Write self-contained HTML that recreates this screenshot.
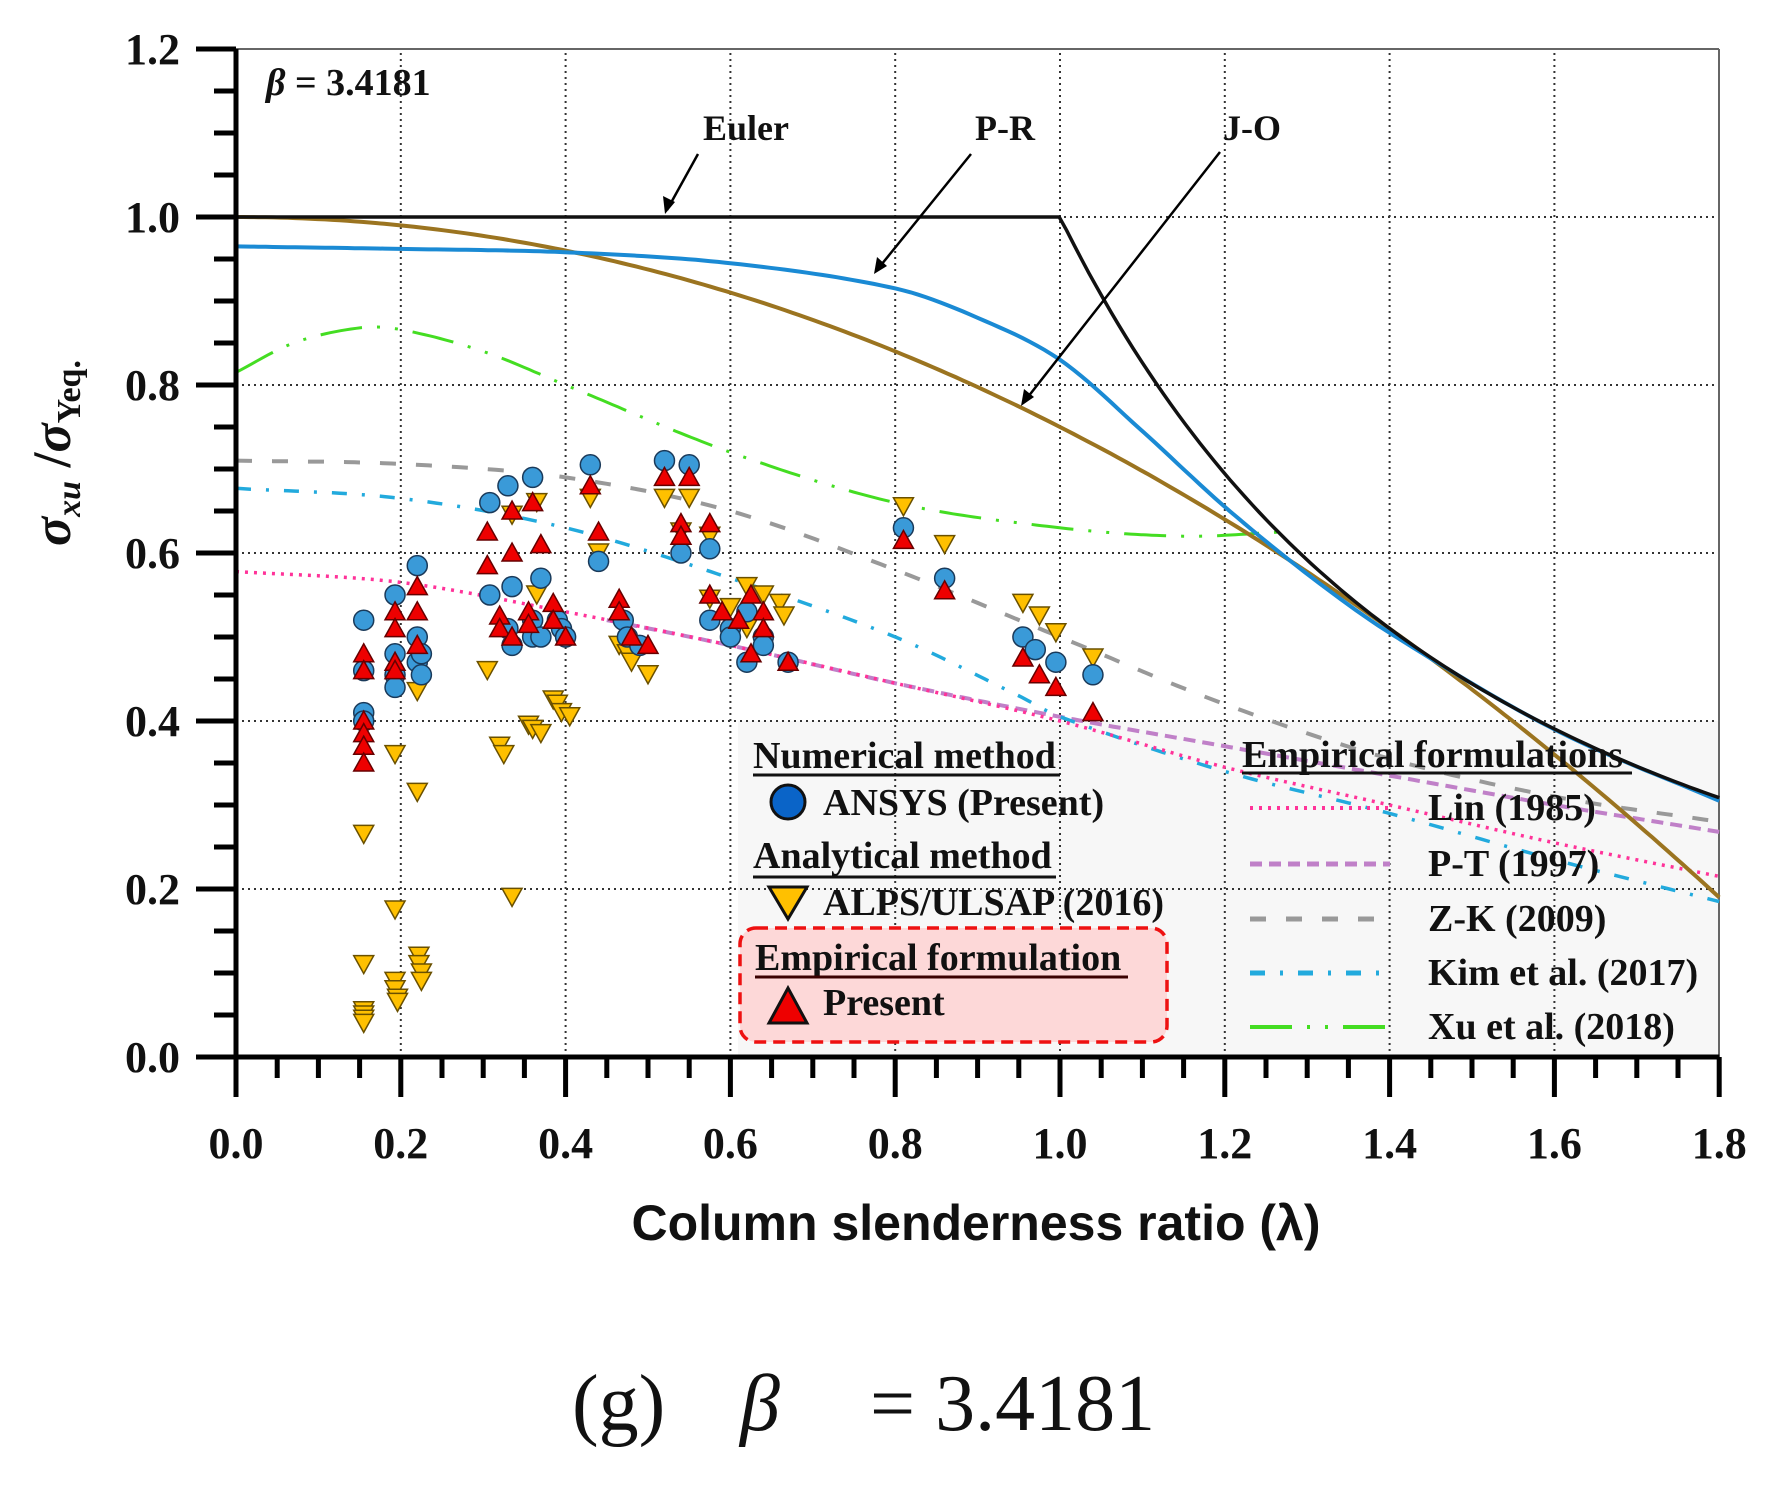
<!DOCTYPE html>
<html><head><meta charset="utf-8"><style>
html,body{margin:0;padding:0;background:#fff;width:1777px;height:1486px;overflow:hidden}
svg{display:block}
text{font-family:"Liberation Serif",serif;font-weight:bold;fill:#111}
.n{font-weight:normal}
</style></head><body>
<svg id="s" width="1777" height="1486" xmlns="http://www.w3.org/2000/svg">
<rect x="738" y="721" width="981" height="336" fill="#f7f7f7"/>
<g id="grid" stroke="#333" stroke-width="2" stroke-dasharray="2,4"></g>
<line x1="236" y1="49" x2="1719" y2="49" stroke="#666" stroke-width="2"/>
<line x1="1719" y1="49" x2="1719" y2="1057" stroke="#666" stroke-width="2"/>
<g id="curves" fill="none"></g>
<g id="marks"></g>
<g id="axes" stroke="#000" stroke-width="5"></g>
<g id="labels" font-size="44"></g>
<text x="266" y="95" font-size="38"><tspan font-style="italic">β</tspan> = 3.4181</text>
<text x="746" y="140" font-size="36" text-anchor="middle">Euler</text>
<text x="1005" y="140" font-size="36" text-anchor="middle">P-R</text>
<text x="1252" y="140" font-size="36" text-anchor="middle">J-O</text>
<g stroke="#000" stroke-width="2.5" fill="none">
<line x1="698" y1="154" x2="667" y2="210"/><line x1="971" y1="154" x2="877" y2="270"/><line x1="1220" y1="152" x2="1024" y2="402"/>
</g>
<g fill="#000">
<polygon points="665,214 663,196 675,202"/><polygon points="874,274 877,257 887,266"/><polygon points="1021,406 1024,389 1034,397"/>
</g>
<rect x="740" y="928" width="427" height="114" rx="16" fill="#fdd8d8" stroke="#ee1111" stroke-width="3.5" stroke-dasharray="12,7"/>
<g font-size="38">
<text x="753" y="768">Numerical  method</text><line x1="753" y1="775" x2="1060" y2="775" stroke="#111" stroke-width="3"/>
<circle cx="788" cy="802" r="17" fill="#0a64c8" stroke="#111" stroke-width="3"/>
<text x="823" y="815">ANSYS (Present)</text>
<text x="753" y="868">Analytical  method</text><line x1="753" y1="877" x2="1056" y2="877" stroke="#111" stroke-width="3"/>
<polygon points="769,887 807,887 788,919" fill="#ffc000" stroke="#111" stroke-width="3"/>
<text x="823" y="915">ALPS/ULSAP (2016)</text>
<text x="755" y="970" fill="#3a0000">Empirical  formulation</text><line x1="755" y1="977" x2="1128" y2="977" stroke="#3a0000" stroke-width="3"/>
<polygon points="769,1023 807,1023 788,988" fill="#ee0000" stroke="#111" stroke-width="3"/>
<text x="823" y="1015" fill="#3a0000">Present</text>
<text x="1242" y="767">Empirical  formulations</text><line x1="1242" y1="773" x2="1632" y2="773" stroke="#111" stroke-width="3"/>
<line x1="1250" y1="808" x2="1390" y2="808" stroke="#ff3399" stroke-width="4" stroke-dasharray="3,6"/>
<line x1="1250" y1="864" x2="1390" y2="864" stroke="#c080c8" stroke-width="5" stroke-dasharray="12,7"/>
<line x1="1250" y1="919" x2="1390" y2="919" stroke="#999" stroke-width="5" stroke-dasharray="16,20"/>
<line x1="1250" y1="973" x2="1390" y2="973" stroke="#22aadd" stroke-width="5" stroke-dasharray="15,15,3,15"/>
<line x1="1250" y1="1027" x2="1390" y2="1027" stroke="#44dd22" stroke-width="4" stroke-dasharray="42,15,3,15,3,15"/>
<text x="1428" y="820">Lin (1985)</text>
<text x="1428" y="876">P-T (1997)</text>
<text x="1428" y="931">Z-K (2009)</text>
<text x="1428" y="985">Kim et al. (2017)</text>
<text x="1428" y="1039">Xu et al. (2018)</text>
</g>
<text x="976" y="1240" font-size="50" text-anchor="middle" style="font-family:'Liberation Sans',sans-serif">Column  slenderness  ratio (λ)</text>
<text transform="translate(70,453) rotate(-90)" font-size="54" text-anchor="middle"><tspan font-style="italic">σ</tspan><tspan font-size="34" dy="10" font-style="italic">xu</tspan><tspan dy="-10"> /</tspan><tspan font-style="italic">σ</tspan><tspan font-size="34" dy="10">Yeq.</tspan></text>
<text x="572" y="1430" font-size="80" class="n">(g)</text>
<text x="740" y="1430" font-size="80" class="n" font-style="italic">β</text>
<text x="870" y="1430" font-size="80" class="n">= 3.4181</text>
</svg>
<script>
const NS="http://www.w3.org/2000/svg";
const X=v=>236+v*824, Y=v=>1057-v*840;
function el(p,t,a){const e=document.createElementNS(NS,t);for(const k in a)e.setAttribute(k,a[k]);p.appendChild(e);return e;}
const grid=document.getElementById('grid');
for(let i=1;i<=8;i++){el(grid,'line',{x1:X(i*0.2),y1:Y(0),x2:X(i*0.2),y2:Y(1.2)});}
for(let i=1;i<=5;i++){el(grid,'line',{x1:X(0),y1:Y(i*0.2),x2:X(1.8),y2:Y(i*0.2)});}
const ax=document.getElementById('axes');
el(ax,'line',{x1:236,y1:Y(0),x2:X(1.8),y2:Y(0)});
el(ax,'line',{x1:236,y1:Y(0),x2:236,y2:Y(1.2)});
for(let i=0;i<=24;i++){const v=i*0.05;const maj=i%4==0;el(ax,'line',{x1:maj?196:214,y1:Y(v),x2:236,y2:Y(v)});}
for(let i=0;i<=36;i++){const v=i*0.05;const maj=i%4==0;el(ax,'line',{x1:X(v),y1:Y(0),x2:X(v),y2:maj?1097:1078});}
const lb=document.getElementById('labels');
for(let i=0;i<=6;i++){const t=el(lb,'text',{x:180,y:Y(i*0.2)+15,'text-anchor':'end'});t.textContent=(i*0.2).toFixed(1);}
for(let i=0;i<=9;i++){const t=el(lb,'text',{x:X(i*0.2),y:1158,'text-anchor':'middle'});t.textContent=(i*0.2).toFixed(1);}
const cv=document.getElementById('curves');
function fpath(f,a,b,n){let d='';for(let i=0;i<=n;i++){const x=a+(b-a)*i/n;d+=(i?'L':'M')+X(x).toFixed(1)+','+Y(f(x)).toFixed(1);}return d;}
function interp(pts){return x=>{for(let i=0;i<pts.length-1;i++){if(x<=pts[i+1][0]){const[x0,y0]=pts[i],[x1,y1]=pts[i+1];
 const t=(x-x0)/(x1-x0);const m0=i>0?(y1-pts[i-1][1])/(x1-pts[i-1][0]):(y1-y0)/(x1-x0);const m1=i<pts.length-2?(pts[i+2][1]-y0)/(pts[i+2][0]-x0):(y1-y0)/(x1-x0);
 const h=x1-x0,t2=t*t,t3=t2*t;return (2*t3-3*t2+1)*y0+(t3-2*t2+t)*h*m0+(-2*t3+3*t2)*y1+(t3-t2)*h*m1;}}return pts[pts.length-1][1];};}
function curve(f,a,b,st){el(cv,'path',Object.assign({d:fpath(f,a,b,200)},st));}
curve(interp([[0,0.71],[0.2,0.706],[0.4,0.69],[0.6,0.65],[0.8,0.58],[1.0,0.5],[1.2,0.42],[1.4,0.355],[1.6,0.31],[1.8,0.28]]),0,1.8,{stroke:'#999','stroke-width':4,'stroke-dasharray':'16,20'});
curve(interp([[0.4,0.53],[0.6,0.49],[0.8,0.445],[1.0,0.405],[1.2,0.37],[1.4,0.335],[1.6,0.3],[1.8,0.268]]),0.45,1.8,{stroke:'#c080c8','stroke-width':4,'stroke-dasharray':'12,7'});
curve(interp([[0,0.677],[0.2,0.665],[0.4,0.63],[0.6,0.57],[0.8,0.5],[0.95,0.43],[1.0,0.405],[1.2,0.34],[1.4,0.29],[1.6,0.235],[1.8,0.185]]),0,1.8,{stroke:'#22aadd','stroke-width':3.5,'stroke-dasharray':'15,15,3,15'});
curve(interp([[0,0.578],[0.2,0.565],[0.4,0.53],[0.6,0.49],[0.8,0.445],[1.0,0.4],[1.2,0.345],[1.4,0.3],[1.6,0.255],[1.8,0.215]]),0,1.8,{stroke:'#ff3399','stroke-width':3.5,'stroke-dasharray':'3,6'});
curve(interp([[0,0.815],[0.07,0.85],[0.15,0.868],[0.2,0.866],[0.3,0.84],[0.4,0.8],[0.6,0.72],[0.8,0.66],[1.0,0.63],[1.15,0.62],[1.27,0.625]]),0,1.27,{stroke:'#44dd22','stroke-width':3,'stroke-dasharray':'42,15,3,15,3,15'});
curve(x=>1-x*x/4,0,1.8,{stroke:'#9b7420','stroke-width':4});
curve(interp([[0,0.965],[0.2,0.962],[0.4,0.958],[0.6,0.945],[0.8,0.915],[0.9,0.88],[1.0,0.83],[1.1,0.745],[1.2,0.655],[1.3,0.575],[1.4,0.505],[1.6,0.39],[1.8,0.305]]),0,1.8,{stroke:'#1a8ad4','stroke-width':4});
curve(x=>x<=1?1:1/(x*x),0,1.8,{stroke:'#111','stroke-width':3.5});
const mk=document.getElementById('marks');
const C=[[.155,.52],[.155,.46],[.155,.41],[.155,.40],[.193,.55],[.193,.48],[.193,.455],[.193,.44],[.22,.585],[.22,.5],[.22,.47],[.225,.455],[.225,.48],[.308,.66],[.308,.55],[.33,.68],[.33,.51],[.335,.49],[.335,.56],[.36,.69],[.36,.52],[.36,.5],[.37,.57],[.37,.5],[.39,.52],[.395,.51],[.40,.5],[.43,.705],[.44,.59],[.47,.52],[.475,.5],[.49,.49],[.52,.71],[.54,.6],[.55,.705],[.575,.605],[.575,.52],[.6,.51],[.6,.5],[.62,.53],[.62,.47],[.64,.5],[.64,.49],[.67,.47],[.81,.63],[.86,.57],[.955,.5],[.97,.485],[.995,.47],[1.04,.455]];
const R=[[.155,.48],[.155,.46],[.155,.40],[.155,.385],[.155,.37],[.155,.35],[.193,.53],[.193,.51],[.193,.47],[.193,.46],[.22,.56],[.22,.53],[.22,.49],[.305,.625],[.305,.585],[.32,.525],[.32,.51],[.335,.65],[.335,.6],[.335,.5],[.355,.53],[.355,.515],[.36,.66],[.37,.61],[.385,.54],[.385,.52],[.4,.5],[.43,.68],[.44,.625],[.465,.545],[.465,.53],[.48,.5],[.5,.49],[.52,.69],[.54,.635],[.54,.62],[.55,.69],[.575,.635],[.575,.55],[.59,.53],[.61,.52],[.625,.55],[.625,.48],[.64,.53],[.64,.51],[.67,.47],[.81,.615],[.86,.555],[.955,.475],[.975,.455],[.995,.44],[1.04,.41]];
const Yl=[[.155,.265],[.155,.11],[.155,.055],[.155,.05],[.155,.045],[.155,.04],[.193,.36],[.193,.175],[.193,.09],[.193,.08],[.196,.07],[.196,.065],[.22,.435],[.22,.315],[.222,.12],[.222,.11],[.225,.1],[.225,.09],[.305,.46],[.32,.37],[.325,.36],[.335,.645],[.335,.19],[.355,.395],[.36,.39],[.365,.66],[.365,.55],[.37,.385],[.385,.425],[.39,.42],[.395,.41],[.405,.405],[.43,.665],[.44,.6],[.465,.49],[.475,.48],[.48,.47],[.5,.455],[.52,.665],[.54,.625],[.55,.665],[.575,.62],[.575,.545],[.6,.535],[.62,.56],[.62,.51],[.64,.55],[.66,.54],[.665,.525],[.81,.655],[.86,.61],[.955,.54],[.975,.525],[.995,.505],[1.04,.475]];
Yl.forEach(([a,b])=>{const x=X(a),y=Y(b);el(mk,'polygon',{points:`${x-10},${y-9} ${x+10},${y-9} ${x},${y+9}`,fill:'#ffc000',stroke:'#6a5000','stroke-width':1.5});});
C.forEach(([a,b])=>el(mk,'circle',{cx:X(a),cy:Y(b),r:10,fill:'#3a9ad8',stroke:'#1a3a5a','stroke-width':1.5}));
R.forEach(([a,b])=>{const x=X(a),y=Y(b);el(mk,'polygon',{points:`${x-10},${y+8} ${x+10},${y+8} ${x},${y-10}`,fill:'#ee0000',stroke:'#600','stroke-width':1.5});});
</script>
</body></html>
